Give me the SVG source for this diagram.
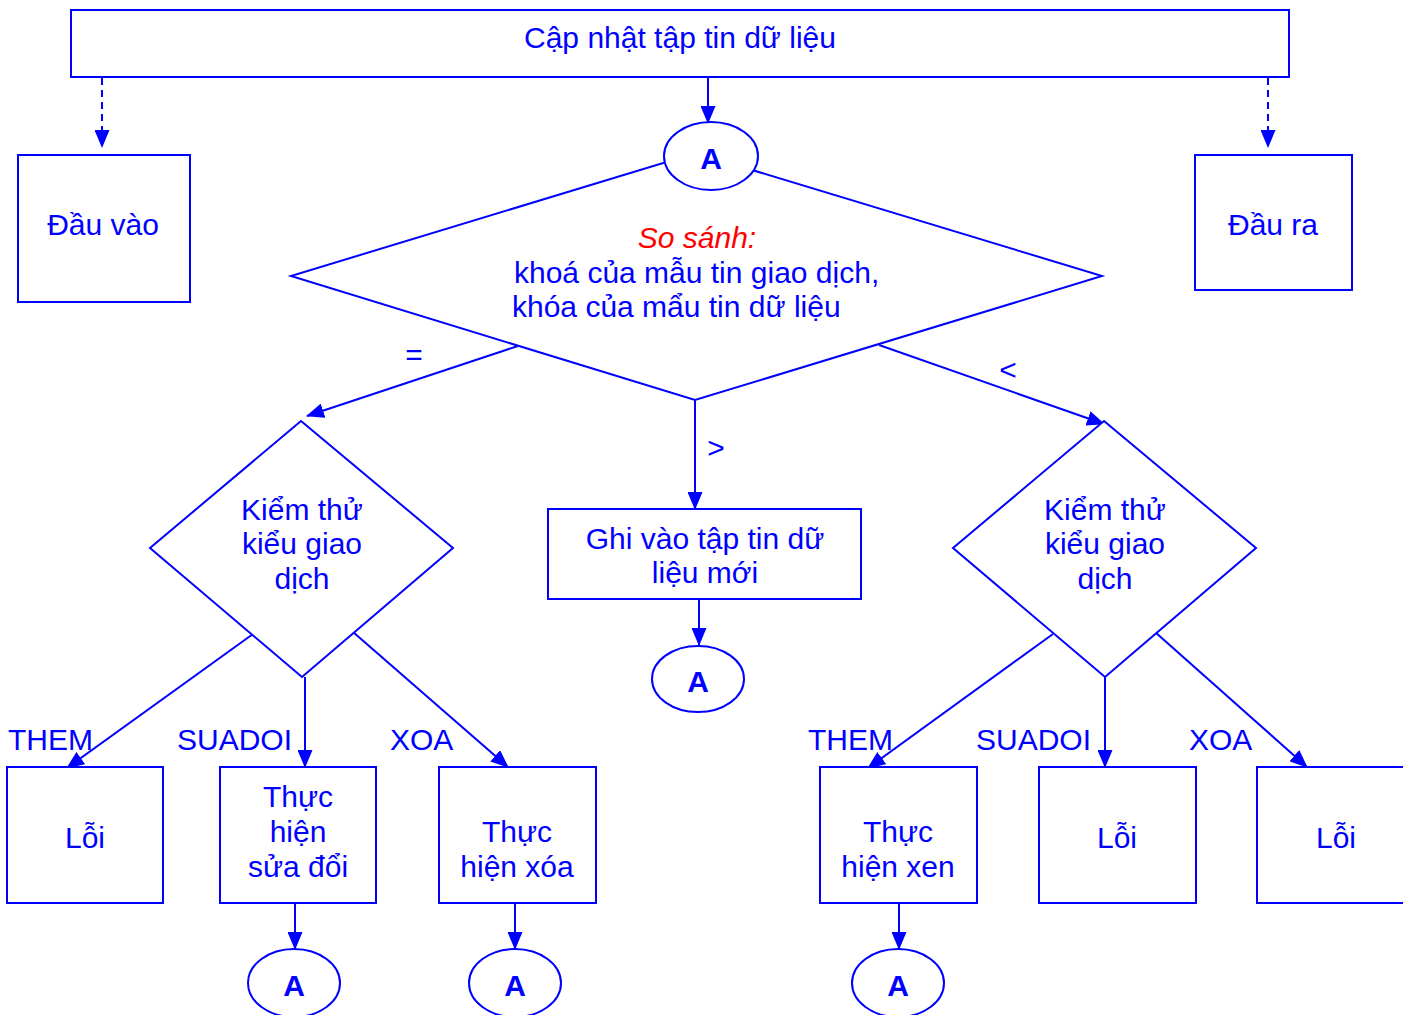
<svg xmlns="http://www.w3.org/2000/svg" width="1403" height="1015" viewBox="0 0 1403 1015">
  <style>
    .shape { fill: #ffffff; stroke: #0000ff; stroke-width: 2; }
    .line { fill: none; stroke: #0000ff; stroke-width: 2; }
    .dash { stroke-dasharray: 7 5; }
    .t { font-family: "Liberation Sans", Arial, sans-serif; font-size: 30px; fill: #0000ff; }
    .c { text-anchor: middle; }
    .a { font-family: "Liberation Sans", Arial, sans-serif; font-size: 30px; font-weight: bold; fill: #0000ff; text-anchor: middle; }
    .red { fill: #ff0000; font-style: italic; }
  </style>
  <defs>
    <marker id="arrow" markerUnits="userSpaceOnUse" markerWidth="18" markerHeight="15" refX="17" refY="7.5" orient="auto">
      <path d="M0,0 L18,7.5 L0,15 Z" fill="#0000ff"/>
    </marker>
  </defs>
  <rect width="1403" height="1015" fill="#ffffff"/>

  <!-- connectors -->
  <g id="connectors">
    <line class="line dash" x1="102" y1="78" x2="102" y2="147" marker-end="url(#arrow)"/>
    <line class="line dash" x1="1268" y1="78" x2="1268" y2="147" marker-end="url(#arrow)"/>
    <line class="line" x1="708" y1="78" x2="708" y2="123" marker-end="url(#arrow)"/>
    <line class="line" x1="518" y1="346" x2="307" y2="416" marker-end="url(#arrow)"/>
    <line class="line" x1="695" y1="400" x2="695" y2="509" marker-end="url(#arrow)"/>
    <line class="line" x1="879" y1="345" x2="1104" y2="424" marker-end="url(#arrow)"/>
    <line class="line" x1="699" y1="600" x2="699" y2="645" marker-end="url(#arrow)"/>
    <line class="line" x1="253" y1="634" x2="67" y2="768" marker-end="url(#arrow)"/>
    <line class="line" x1="305" y1="677" x2="305" y2="767" marker-end="url(#arrow)"/>
    <line class="line" x1="353" y1="632" x2="508" y2="767" marker-end="url(#arrow)"/>
    <line class="line" x1="1053" y1="634" x2="868" y2="768" marker-end="url(#arrow)"/>
    <line class="line" x1="1105" y1="677" x2="1105" y2="767" marker-end="url(#arrow)"/>
    <line class="line" x1="1155" y1="632" x2="1307" y2="767" marker-end="url(#arrow)"/>
    <line class="line" x1="295" y1="903" x2="295" y2="949" marker-end="url(#arrow)"/>
    <line class="line" x1="515" y1="903" x2="515" y2="949" marker-end="url(#arrow)"/>
    <line class="line" x1="899" y1="903" x2="899" y2="949" marker-end="url(#arrow)"/>
    <text class="t" x="414" y="365" text-anchor="middle">=</text>
    <text class="t" x="716" y="458" text-anchor="middle">&gt;</text>
    <text class="t" x="1008" y="380" text-anchor="middle">&lt;</text>
    <text class="t" x="8" y="750">THEM</text>
    <text class="t" x="177" y="750">SUADOI</text>
    <text class="t" x="390" y="750">XOA</text>
    <text class="t" x="808" y="750">THEM</text>
    <text class="t" x="976" y="750">SUADOI</text>
    <text class="t" x="1189" y="750">XOA</text>
  </g>

  <g id="update-file">
    <rect class="shape" x="71" y="10" width="1218" height="67"/>
    <text class="t c" x="680" y="48">Cập nhật tập tin dữ liệu</text>
  </g>

  <g id="input">
    <rect class="shape" x="18" y="155" width="172" height="147"/>
    <text class="t c" x="103" y="235">Đầu vào</text>
  </g>

  <g id="output">
    <rect class="shape" x="1195" y="155" width="157" height="135"/>
    <text class="t c" x="1273" y="235">Đầu ra</text>
  </g>

  <g id="compare">
    <polygon class="shape" points="696,153 1102,276 695,400 291,276"/>
    <text class="t red c" x="697" y="248">So sánh:</text>
    <text class="t" x="514" y="283">khoá của mẫu tin giao dịch,</text>
    <text class="t" x="512" y="317">khóa của mẩu tin dữ liệu</text>
  </g>

  <g id="connector-a-top">
    <ellipse class="shape" cx="711" cy="156" rx="47" ry="34"/>
    <text class="a" x="711" y="169">A</text>
  </g>

  <g id="check-type-left">
    <polygon class="shape" points="301,421 453,548 302,677 150,548"/>
    <text class="t c" x="302" y="520">Kiểm thử</text>
    <text class="t c" x="302" y="554">kiểu giao</text>
    <text class="t c" x="302" y="589">dịch</text>
  </g>

  <g id="check-type-right">
    <polygon class="shape" points="1104,421 1256,548 1105,677 953,548"/>
    <text class="t c" x="1105" y="520">Kiểm thử</text>
    <text class="t c" x="1105" y="554">kiểu giao</text>
    <text class="t c" x="1105" y="589">dịch</text>
  </g>

  <g id="write-new">
    <rect class="shape" x="548" y="509" width="313" height="90"/>
    <text class="t c" x="705" y="549">Ghi vào tập tin dữ</text>
    <text class="t c" x="705" y="583">liệu mới</text>
  </g>

  <g id="connector-a-mid">
    <ellipse class="shape" cx="698" cy="679" rx="46" ry="33"/>
    <text class="a" x="698" y="692">A</text>
  </g>

  <g id="error-left">
    <rect class="shape" x="7" y="767" width="156" height="136"/>
    <text class="t c" x="85" y="848">Lỗi</text>
  </g>

  <g id="modify">
    <rect class="shape" x="220" y="767" width="156" height="136"/>
    <text class="t c" x="298" y="807">Thực</text>
    <text class="t c" x="298" y="842">hiện</text>
    <text class="t c" x="298" y="877">sửa đổi</text>
  </g>

  <g id="delete">
    <rect class="shape" x="439" y="767" width="157" height="136"/>
    <text class="t c" x="517" y="842">Thực</text>
    <text class="t c" x="517" y="877">hiện xóa</text>
  </g>

  <g id="insert">
    <rect class="shape" x="820" y="767" width="157" height="136"/>
    <text class="t c" x="898" y="842">Thực</text>
    <text class="t c" x="898" y="877">hiện xen</text>
  </g>

  <g id="error-mid">
    <rect class="shape" x="1039" y="767" width="157" height="136"/>
    <text class="t c" x="1117" y="848">Lỗi</text>
  </g>

  <g id="error-right">
    <rect class="shape" x="1257" y="767" width="160" height="136"/>
    <text class="t c" x="1336" y="848">Lỗi</text>
  </g>

  <g id="connector-a-modify">
    <ellipse class="shape" cx="294" cy="983" rx="46" ry="34"/>
    <text class="a" x="294" y="996">A</text>
  </g>

  <g id="connector-a-delete">
    <ellipse class="shape" cx="515" cy="983" rx="46" ry="34"/>
    <text class="a" x="515" y="996">A</text>
  </g>

  <g id="connector-a-insert">
    <ellipse class="shape" cx="898" cy="983" rx="46" ry="34"/>
    <text class="a" x="898" y="996">A</text>
  </g>
</svg>
